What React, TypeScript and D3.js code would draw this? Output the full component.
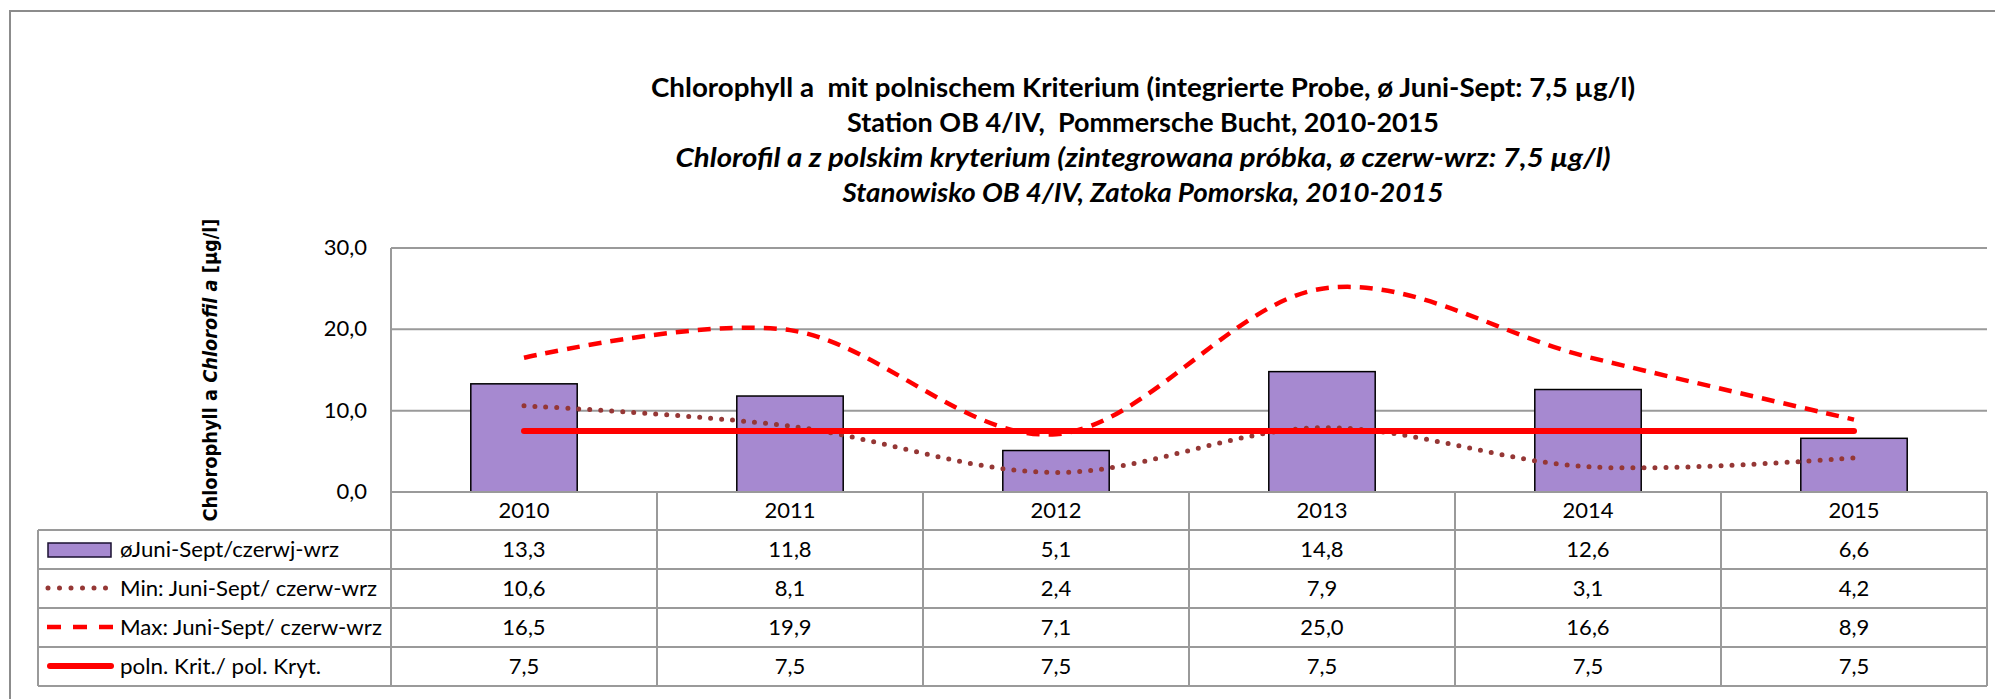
import React from 'react';
import * as d3 from 'd3';

const years = ['2010', '2011', '2012', '2013', '2014', '2015'];
const avgValues = [13.3, 11.8, 5.1, 14.8, 12.6, 6.6];
const minValues = [10.6, 8.1, 2.4, 7.9, 3.1, 4.2];
const maxValues = [16.5, 19.9, 7.1, 25.0, 16.6, 8.9];
const critValues = [7.5, 7.5, 7.5, 7.5, 7.5, 7.5];
const yTicks = [0, 10, 20, 30];
const seriesLabels = [
  'øJuni-Sept/czerwj-wrz',
  'Min: Juni-Sept/ czerw-wrz',
  'Max: Juni-Sept/ czerw-wrz',
  'poln. Krit./ pol. Kryt.',
];
const titleLines = [
  'Chlorophyll a  mit polnischem Kriterium (integrierte Probe, ø Juni-Sept: 7,5 µg/l)',
  'Station OB 4/IV,  Pommersche Bucht, 2010-2015',
  'Chlorofil a z polskim kryterium (zintegrowana próbka, ø czerw-wrz: 7,5 µg/l)',
  'Stanowisko OB 4/IV, Zatoka Pomorska, 2010-2015',
];

const W = 1995;
const H = 699;
const plotLeft = 391;
const plotRight = 1987;
const plotTop = 248;
const plotBottom = 492;
const tableLeft = 38;
const headerBottom = 530;
const rowH = 39;

const GRID = '#9a9a9a';
const BAR_FILL = '#a689d0';
const MIN_COLOR = '#953735';
const RED = '#ff0000';
const FONT = 'Lato, Carlito, "Open Sans", sans-serif';

const fmt = (v: number) => d3.format('.1f')(v).replace('.', ',');

export default function App() {
  const x = d3
    .scaleBand<string>()
    .domain(years)
    .range([plotLeft, plotRight])
    .paddingInner(0.6)
    .paddingOuter(0.3);
  const step = x.step();
  const y = d3.scaleLinear().domain([0, 30]).range([plotBottom, plotTop]);
  const cx = (yr: string) => (x(yr) as number) + x.bandwidth() / 2;

  const line = d3
    .line<number>()
    .x((_, i) => cx(years[i]))
    .y((d) => y(d))
    .curve(d3.curveCardinal.tension(0));

  const rowsY = [0, 1, 2, 3, 4].map((i) => headerBottom + i * rowH);
  const colBounds = years.map((_, i) => plotLeft + i * step).concat([plotRight]);

  const rowData = [avgValues, minValues, maxValues, critValues];
  const titleWidths = [984, 592, 935, 601];
  const titleBaselines = [97, 132, 167, 202];
  const legendTextWidths = [219, 257, 262, 201];

  return (
    <svg
      width={W}
      height={H}
      style={{ position: 'absolute', left: 0, top: 0, background: '#fff' }}
      fontFamily={FONT}
    >
      <rect x={0} y={0} width={W} height={H} fill="#fff" />
      <rect x={10} y={11} width={W + 10} height={H + 10} fill="none" stroke="#8c8c8c" strokeWidth={2} />

      {/* Title */}
      {titleLines.map((t, i) => (
        <text
          key={i}
          x={1143}
          y={titleBaselines[i]}
          textAnchor="middle"
          fontSize={27}
          fontWeight="bold"
          fontStyle={i >= 2 ? 'italic' : 'normal'}
          textLength={titleWidths[i]}
          lengthAdjust="spacingAndGlyphs"
          fill="#000"
          style={{ whiteSpace: 'pre' }}
        >
          {t}
        </text>
      ))}

      {/* Y axis title */}
      <text
        transform={`translate(217, ${(plotTop + plotBottom) / 2}) rotate(-90)`}
        textAnchor="middle"
        fontSize={19}
        fontWeight="bold"
        fontFamily='"DejaVu Sans", Verdana, sans-serif'
        textLength={303}
        lengthAdjust="spacingAndGlyphs"
        fill="#000"
      >
        <tspan>Chlorophyll a </tspan>
        <tspan fontStyle="italic">Chlorofil a</tspan>
        <tspan> [µg/l]</tspan>
      </text>

      {/* Gridlines */}
      {yTicks.map((t) =>
        t === 0 ? null : (
          <line key={t} x1={plotLeft} x2={plotRight} y1={y(t)} y2={y(t)} stroke={GRID} strokeWidth={2} />
        )
      )}
      {yTicks.map((t) => (
        <text key={'l' + t} x={367} y={y(t) + 7} textAnchor="end" fontSize={22} fill="#000">
          {fmt(t)}
        </text>
      ))}

      {/* Bars */}
      {years.map((yr, i) => (
        <rect
          key={yr}
          x={x(yr)}
          y={y(avgValues[i])}
          width={x.bandwidth()}
          height={y(0) - y(avgValues[i])}
          fill={BAR_FILL}
          stroke="#000"
          strokeWidth={1.5}
        />
      ))}

      {/* Lines */}
      <path
        d={line(minValues) || ''}
        fill="none"
        stroke={MIN_COLOR}
        strokeWidth={5}
        strokeLinecap="round"
        strokeDasharray="0 11"
      />
      <path d={line(maxValues) || ''} fill="none" stroke={RED} strokeWidth={4.5} strokeDasharray="13 9" />
      <path d={line(critValues) || ''} fill="none" stroke={RED} strokeWidth={6} strokeLinecap="round" />

      {/* Table grid */}
      <line x1={plotLeft} x2={plotLeft} y1={plotTop} y2={rowsY[4]} stroke={GRID} strokeWidth={2} />
      <line x1={plotLeft} x2={plotRight} y1={plotBottom} y2={plotBottom} stroke={GRID} strokeWidth={2} />
      {rowsY.map((ry, i) => (
        <line key={'h' + i} x1={tableLeft} x2={plotRight} y1={ry} y2={ry} stroke={GRID} strokeWidth={2} />
      ))}
      <line x1={tableLeft} x2={tableLeft} y1={headerBottom} y2={rowsY[4]} stroke={GRID} strokeWidth={2} />
      {colBounds.slice(1).map((bx, i) => (
        <line key={'v' + i} x1={bx} x2={bx} y1={plotBottom} y2={rowsY[4]} stroke={GRID} strokeWidth={2} />
      ))}

      {/* Header years */}
      {years.map((yr) => (
        <text key={'y' + yr} x={cx(yr)} y={(plotBottom + headerBottom) / 2 + 7} textAnchor="middle" fontSize={22} fill="#000">
          {yr}
        </text>
      ))}

      {/* Data rows */}
      {rowData.map((vals, r) =>
        vals.map((v, i) => (
          <text
            key={`d${r}-${i}`}
            x={cx(years[i])}
            y={rowsY[r] + rowH / 2 + 7}
            textAnchor="middle"
            fontSize={22}
            fill="#000"
          >
            {fmt(v)}
          </text>
        ))
      )}

      {/* Legend keys */}
      <rect x={48} y={rowsY[0] + 13} width={63} height={14} fill={BAR_FILL} stroke="#1a1030" strokeWidth={1.5} />
      <line
        x1={48}
        x2={110}
        y1={rowsY[1] + 19}
        y2={rowsY[1] + 19}
        stroke={MIN_COLOR}
        strokeWidth={5}
        strokeLinecap="round"
        strokeDasharray="0 11.5"
      />
      <line x1={47} x2={113} y1={rowsY[2] + 19} y2={rowsY[2] + 19} stroke={RED} strokeWidth={4.5} strokeDasharray="14 12" />
      <line x1={50} x2={111} y1={rowsY[3] + 19} y2={rowsY[3] + 19} stroke={RED} strokeWidth={6} strokeLinecap="round" />
      {seriesLabels.map((s, r) => (
        <text
          key={'s' + r}
          x={120}
          y={rowsY[r] + rowH / 2 + 7}
          fontSize={22}
          fill="#000"
          textLength={legendTextWidths[r]}
          lengthAdjust="spacingAndGlyphs"
        >
          {s}
        </text>
      ))}
    </svg>
  );
}
